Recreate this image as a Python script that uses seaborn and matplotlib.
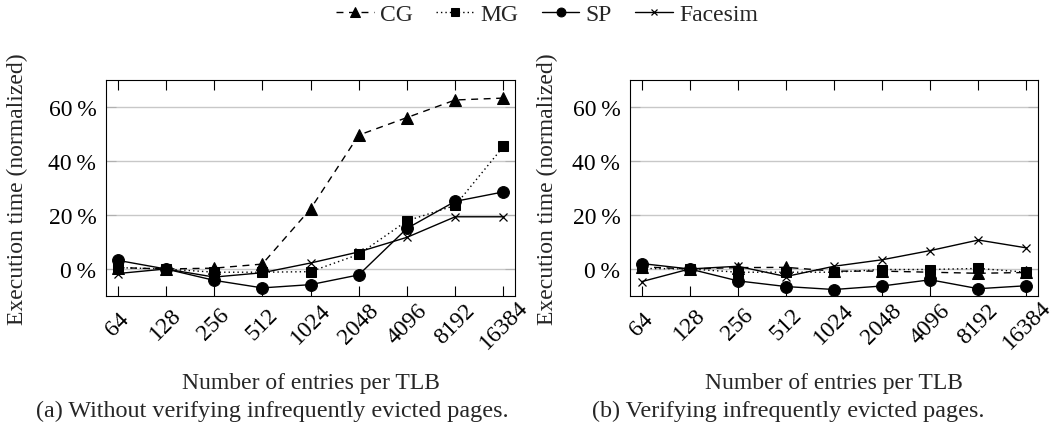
import matplotlib
matplotlib.use("Agg")
import matplotlib.pyplot as plt
import seaborn as sns
import pandas as pd

entries = ['64', '128', '256', '512', '1024', '2048', '4096', '8192', '16384']
series_names = ['CG', 'MG', 'SP', 'Facesim']

# (a) Without verifying infrequently evicted pages
a_cg = [0.5, 0.0, 0.3, 1.8, 22.2, 49.5, 56.0, 62.5, 63.2]
a_mg = [0.5, 0.0, -1.2, -1.2, -1.0, 5.4, 17.8, 23.5, 45.3]
a_sp = [3.2, 0.0, -4.2, -7.0, -5.8, -2.2, 15.0, 25.0, 28.5]
a_facesim = [-1.7, 0.0, -3.0, -1.4, 2.2, 6.3, 11.7, 19.3, 19.3]

# (b) Verifying infrequently evicted pages
b_cg = [0.8, 0.0, 0.5, 0.6, -0.8, -0.8, -1.2, -1.6, -1.3]
b_mg = [0.2, 0.0, -1.2, -1.2, -1.2, -0.2, -0.2, 0.2, -1.2]
b_sp = [2.0, 0.0, -4.4, -6.5, -7.6, -6.3, -4.0, -7.3, -6.2]
b_facesim = [-4.7, 0.0, 1.0, -2.8, 1.0, 3.4, 6.8, 10.7, 7.8]

y_ticks = [0, 20, 40, 60]
x_label = 'Number of entries per TLB'
y_label = 'Execution time (normalized)'
captions = ['(a) Without verifying infrequently evicted pages.',
            '(b) Verifying infrequently evicted pages.']

sns.set_theme(style='white')
plt.rcParams['font.family'] = ['Liberation Serif', 'DejaVu Serif']
plt.rcParams['mathtext.fontset'] = 'stix'

styles = {
    'CG': dict(linestyle=(0, (5, 4)), marker='^', markersize=9),
    'MG': dict(linestyle=(0, (1, 2.2)), marker='s', markersize=7.5),
    'SP': dict(linestyle='-', marker='o', markersize=8.5),
    'Facesim': dict(linestyle='-', marker='x', markersize=6, markeredgewidth=0.9),
}

W, H = 1056, 435
fig = plt.figure(figsize=(W / 100, H / 100), dpi=100)
axes_px = [(106, 515), (630, 1038)]
top_px, bot_px = 80.7, 297
axs = []
for (l, r) in axes_px:
    axs.append(fig.add_axes([l / W, 1 - bot_px / H, (r - l) / W, (bot_px - top_px) / H]))

panels = [
    {'CG': a_cg, 'MG': a_mg, 'SP': a_sp, 'Facesim': a_facesim},
    {'CG': b_cg, 'MG': b_mg, 'SP': b_sp, 'Facesim': b_facesim},
]

FS = 17
for i, (ax, data) in enumerate(zip(axs, panels)):
    for name in series_names:
        df = pd.DataFrame({'entries': entries, 'value': data[name]})
        sns.lineplot(data=df, x='entries', y='value', ax=ax, color='black',
                     linewidth=1.0, markeredgecolor='black', label=name,
                     errorbar=None, sort=False, zorder=3, **styles[name])
    ax.set_xlim(-0.24, 8.24)
    ax.set_ylim(-10, 70)
    ax.set_yticks(y_ticks)
    ax.set_yticklabels([f'{v}\u2009%' for v in y_ticks], fontsize=FS)
    ax.set_xticks(range(len(entries)))
    ax.set_xticklabels(entries, rotation=45, ha='center', va='center',
                       rotation_mode='anchor', fontsize=FS)
    ax.tick_params(axis='x', direction='in', length=7.5, width=0.8, top=True,
                   bottom=True, pad=20, colors='black')
    ax.tick_params(axis='y', direction='in', length=7.5, width=0.8, left=True,
                   right=True, pad=7, colors='black', color='#b0b0b0')
    ax.grid(axis='y', color='#c8c8c8', linewidth=1.0, zorder=0)
    ax.grid(axis='x', visible=False)
    ax.set_axisbelow(True)
    for s in ax.spines.values():
        s.set_color('black')
        s.set_linewidth(0.8)
    ax.set_xlabel(x_label, fontsize=FS)
    ax.set_ylabel(y_label, fontsize=FS)
    ax.xaxis.set_label_coords(0.5, -0.35)
    ax.yaxis.set_label_coords(-0.19 if i == 0 else -0.176, 0.5)
    leg = ax.get_legend()
    if leg is not None:
        leg.remove()

handles, labels = axs[0].get_legend_handles_labels()
fig.legend(handles, labels, loc='center', bbox_to_anchor=(0.518, 1 - 15 / H),
           ncol=4, frameon=False, fontsize=FS, handlelength=1.6,
           handletextpad=0.25, columnspacing=1.0, markerscale=0.75)

fig.text(272 / W, 1 - 411 / H, captions[0], ha='center', va='center', fontsize=17.4)
fig.text(788 / W, 1 - 411 / H, captions[1], ha='center', va='center', fontsize=17.4)

fig.savefig('out.png', dpi=100)
